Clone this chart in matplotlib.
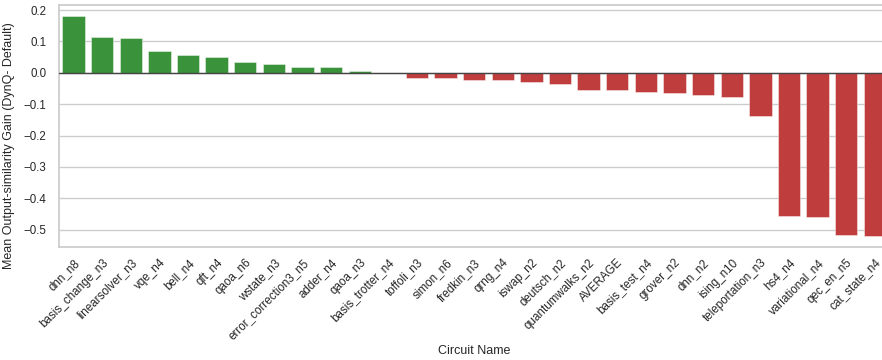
import matplotlib
matplotlib.use("Agg")
import matplotlib.pyplot as plt
import seaborn as sns
import numpy as np

circuits = [
    "dnn_n8", "basis_change_n3", "linearsolver_n3", "vqe_n4", "bell_n4", "qft_n4",
    "qaoa_n6", "wstate_n3", "error_correction3_n5", "adder_n4", "qaoa_n3",
    "basis_trotter_n4", "toffoli_n3", "simon_n6", "fredkin_n3", "qrng_n4",
    "iswap_n2", "deutsch_n2", "quantumwalks_n2", "AVERAGE", "basis_test_n4",
    "grover_n2", "dnn_n2", "ising_n10", "teleportation_n3", "hs4_n4",
    "variational_n4", "qec_en_n5", "cat_state_n4",
]
gains = [
    0.181, 0.114, 0.112, 0.069, 0.056, 0.050,
    0.036, 0.028, 0.020, 0.020, 0.005,
    -0.001, -0.015, -0.018, -0.022, -0.023,
    -0.030, -0.037, -0.055, -0.055, -0.060,
    -0.065, -0.070, -0.077, -0.139, -0.456,
    -0.460, -0.516, -0.520,
]

sns.set_theme(style="whitegrid")
plt.rcParams["font.family"] = ["Liberation Sans", "DejaVu Sans"]

palette = ["tab:green" if g > 0 else "tab:red" for g in gains]

fig = plt.figure(figsize=(8.82, 3.6), dpi=100)
ax = fig.add_axes([0.0671, 0.314, 0.941, 0.672])
sns.barplot(x=circuits, y=gains, hue=circuits, palette=palette, legend=False,
            ax=ax, width=0.78, edgecolor=(1, 1, 1, 0.5), linewidth=0.6)
ax.axhline(0, color="#444444", linewidth=1.0, zorder=3)

ax.set_xlabel("Circuit Name", fontsize=9, labelpad=2)
ax.set_ylabel("Mean Output-similarity Gain (DynQ- Default)", fontsize=9)
ax.yaxis.set_label_coords(-0.0535, 0.42)
ax.tick_params(axis="y", labelsize=8.3, pad=3)
ax.tick_params(axis="x", labelsize=8.4, pad=1)
for lbl in ax.get_xticklabels():
    lbl.set_rotation(45)
    lbl.set_ha("right")
    lbl.set_rotation_mode("anchor")
ax.xaxis.grid(False)
ax.set_yticks(np.arange(-0.5, 0.21, 0.1))

fig.savefig("out.png", dpi=100)
